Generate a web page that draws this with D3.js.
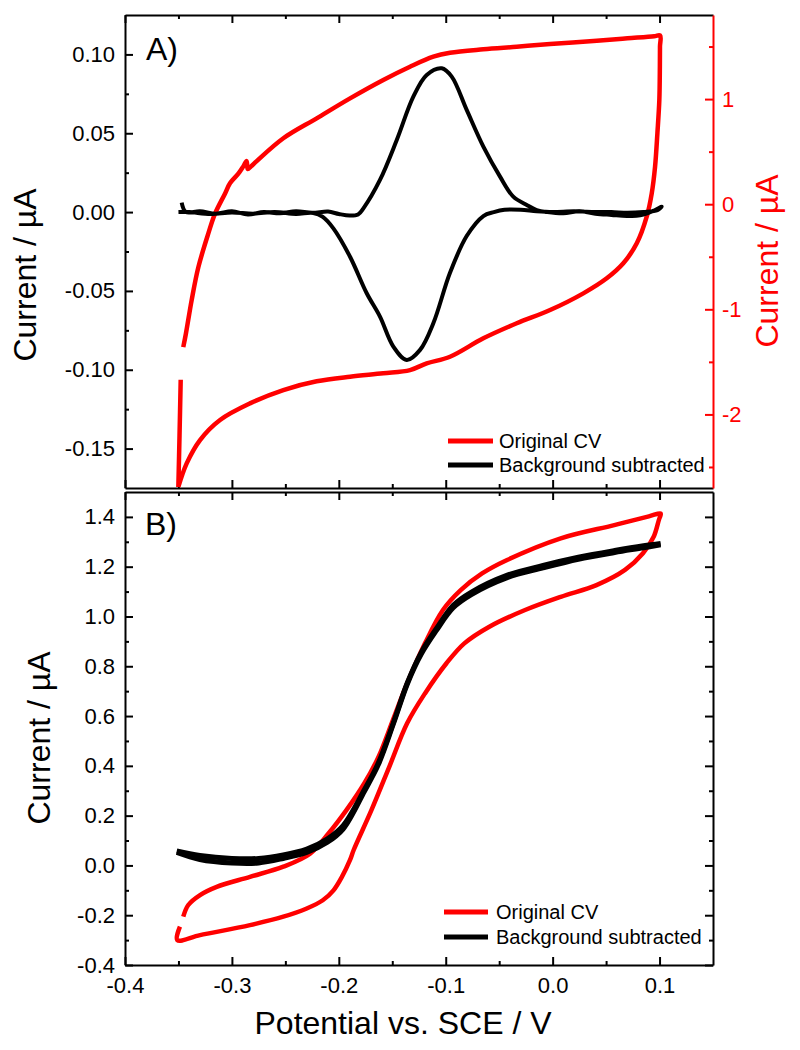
<!DOCTYPE html>
<html><head><meta charset="utf-8">
<script src="https://cdn.jsdelivr.net/npm/d3@7"></script>
<style>body{margin:0;background:#fff} svg{display:block} text{font-family:"Liberation Sans",Arial,sans-serif}</style>
</head><body><svg id="c" width="800" height="1050"></svg>
<script>
// ---------- axes / ticks ----------
const xDomain = [-0.4, 0.15];
const xMajor = [-0.4, -0.3, -0.2, -0.1, 0.0, 0.1];
const xMinor = [-0.35, -0.25, -0.15, -0.05, 0.05];
const xTickLabels = ["-0.4", "-0.3", "-0.2", "-0.1", "0.0", "0.1"];

const yADomain = [-0.175, 0.125];
const yAMajor = [-0.15, -0.10, -0.05, 0.0, 0.05, 0.10];
const yAMinor = [-0.125, -0.075, -0.025, 0.025, 0.075];
const yATickLabels = ["-0.15", "-0.10", "-0.05", "0.00", "0.05", "0.10"];

const yARDomain = [-2.7, 1.8];
const yARMajor = [-2, -1, 0, 1];
const yARMinor = [-2.5, -1.5, -0.5, 0.5, 1.5];
const yARTickLabels = ["-2", "-1", "0", "1"];

const yBDomain = [-0.4, 1.5];
const yBMajor = [-0.4, -0.2, 0.0, 0.2, 0.4, 0.6, 0.8, 1.0, 1.2, 1.4];
const yBMinor = [-0.3, -0.1, 0.1, 0.3, 0.5, 0.7, 0.9, 1.1, 1.3];
const yBTickLabels = ["-0.4", "-0.2", "0.0", "0.2", "0.4", "0.6", "0.8", "1.0", "1.2", "1.4"];

const seriesNames = ["Original CV", "Background subtracted"];
const seriesColors = ["#ff0000", "#000000"];

// ---------- data: panel A ----------
// Original CV (right axis), null = gap in recorded trace
const redA = [
  [-0.3501,-2.69],[-0.3490,-2.20],[-0.3479,-1.67], null,
  [-0.3455,-1.36],[-0.3430,-1.23],[-0.3376,-0.91],[-0.3314,-0.60],[-0.3221,-0.28],
  [-0.3158,-0.09],[-0.3065,0.10],[-0.3018,0.20],[-0.2940,0.29],[-0.2893,0.36],
  [-0.2862,0.41],[-0.2852,0.335],[-0.2821,0.36],[-0.2768,0.41],[-0.2519,0.627],
  [-0.2207,0.817],[-0.1895,1.007],[-0.1584,1.182],[-0.1334,1.308],[-0.1116,1.403],
  [-0.0960,1.441],[-0.0648,1.474],[-0.0336,1.498],[-0.0024,1.524],[0.0413,1.555],
  [0.0700,1.578],[0.0950,1.598],[0.1005,1.605],[0.1004,1.50],[0.1003,1.31],[0.0998,0.99],
  [0.0980,0.677],[0.0958,0.357],
  [0.0927,0.104],[0.0880,-0.119],[0.0787,-0.372],[0.0661,-0.562],[0.0506,-0.705],
  [0.0287,-0.848],[-0.0024,-1.007],[-0.0336,-1.133],[-0.0648,-1.276],[-0.0960,-1.451],
  [-0.1178,-1.514],[-0.1334,-1.578],[-0.1584,-1.609],[-0.1895,-1.641],[-0.2207,-1.685],
  [-0.2519,-1.768],[-0.2831,-1.895],[-0.3111,-2.053],[-0.3298,-2.244],[-0.3423,-2.466],
  [-0.3501,-2.69]
];
// Background subtracted (left axis)
const blackA = [
  [-0.347,0.006],[-0.343,0.000],[-0.330,0.0005],[-0.315,-0.001],[-0.300,0.0005],
  [-0.285,-0.0015],[-0.270,0.000],[-0.255,-0.0008],[-0.240,0.0005],[-0.225,-0.0005],
  [-0.210,0.0003],[-0.200,-0.0012],[-0.190,-0.0022],[-0.182,-0.0015],[-0.177,0.0024],
  [-0.1615,0.0204],[-0.1458,0.0457],[-0.1303,0.0732],[-0.1178,0.0870],[-0.1037,0.0912],
  [-0.0944,0.0859],[-0.0804,0.0648],[-0.0648,0.0415],[-0.0492,0.0225],[-0.0368,0.0098],
  [-0.0242,0.0045],[-0.0149,0.0013],[-0.005,0.000],[0.010,-0.0008],[0.025,0.0005],
  [0.040,-0.001],[0.055,-0.0018],[0.070,-0.0025],[0.085,-0.0015],[0.095,0.001],[0.102,0.0035],
  [0.098,0.0012],[0.085,0.000],[0.070,-0.0005],[0.055,0.000],[0.040,0.000],[0.020,0.0005],
  [0.000,0.000],[-0.015,0.0005],[-0.030,0.0015],[-0.045,0.0015],[-0.055,0.000],
  [-0.0648,-0.0025],[-0.0804,-0.0152],[-0.0960,-0.0385],[-0.1116,-0.0705],[-0.1240,-0.0874],
  [-0.1365,-0.0938],[-0.1490,-0.0853],[-0.1615,-0.0663],[-0.1739,-0.0515],[-0.1895,-0.0283],
  [-0.2051,-0.0103],[-0.2150,-0.003],[-0.2239,-0.0006],[-0.240,-0.0012],[-0.260,0.000],
  [-0.280,-0.001],[-0.300,-0.0002],[-0.320,-0.0012],[-0.340,0.000],[-0.350,0.000]
];

// ---------- data: panel B ----------
const redB = [
  [-0.3486,-0.246],[-0.3511,-0.300],[-0.3298,-0.280],[-0.2831,-0.240],[-0.2519,-0.206],
  [-0.2300,-0.173],[-0.2150,-0.140],[-0.2050,-0.100],[-0.1970,-0.045],[-0.1895,0.022],[-0.1861,0.062],
  [-0.1695,0.222],[-0.1528,0.396],[-0.1361,0.571],[-0.1194,0.691],[-0.0993,0.812],
  [-0.0826,0.892],[-0.0592,0.959],[-0.0258,1.026],[0.0076,1.079],[0.0410,1.126],
  [0.0677,1.187],[0.0845,1.254],[0.0945,1.320],[0.0994,1.388],[0.1008,1.405],[0.1010,1.414],
  [0.0900,1.402],[0.0577,1.367],[0.0076,1.314],[-0.0426,1.227],[-0.0660,1.173],[-0.0860,1.106],
  [-0.1026,1.026],[-0.1194,0.892],[-0.1361,0.731],[-0.1494,0.584],[-0.1628,0.437],
  [-0.1761,0.330],[-0.1929,0.222],[-0.2095,0.129],[-0.2269,0.047],[-0.2519,-0.005],
  [-0.2831,-0.046],[-0.3142,-0.086],[-0.3298,-0.119],[-0.3408,-0.159],[-0.3455,-0.206]
];
const blackBForward = [
  [-0.3516,0.058],[-0.330,0.040],[-0.300,0.028],[-0.275,0.028],[-0.252,0.042],[-0.230,0.066],
  [-0.211,0.106],[-0.196,0.160],[-0.176,0.305],[-0.163,0.412],[-0.149,0.573],[-0.136,0.733],
  [-0.123,0.855],[-0.109,0.950],[-0.093,1.045],[-0.076,1.098],[-0.043,1.165],[-0.009,1.205],
  [0.024,1.238],[0.058,1.265],[0.085,1.284],[0.101,1.293]
];
const blackBReverse = [
  [0.101,1.288],[0.085,1.276],[0.058,1.257],[0.024,1.230],[-0.009,1.195],[-0.043,1.155],
  [-0.076,1.088],[-0.093,1.035],[-0.109,0.942],[-0.123,0.848],[-0.136,0.728],[-0.149,0.568],
  [-0.163,0.405],[-0.176,0.298],[-0.196,0.146],[-0.211,0.092],[-0.230,0.052],[-0.252,0.028],
  [-0.275,0.010],[-0.300,0.010],[-0.330,0.024],[-0.3516,0.052]
];

// ---------- layout ----------
const svg = d3.select("#c");
const L = 125, R = 713;
const PA = {top: 15, bottom: 488}, PB = {top: 492, bottom: 965};
const FONT = '"Liberation Sans", Arial, sans-serif';

const x = d3.scaleLinear().domain(xDomain).range([L, R]);
const yA = d3.scaleLinear().domain(yADomain).range([PA.bottom, PA.top]);
const yAR = d3.scaleLinear().domain(yARDomain).range([PA.bottom, PA.top]);
const yB = d3.scaleLinear().domain(yBDomain).range([PB.bottom, PB.top]);

function drawAxis(makeGen, tx, ty, major, labels, minor, color, pad, showLabels) {
  const g = svg.append("g").attr("transform", `translate(${tx},${ty})`);
  g.call(makeGen().tickValues(major).tickSize(-8).tickSizeOuter(0).tickPadding(pad)
    .tickFormat((d, i) => showLabels ? labels[i] : ""));
  g.attr("font-family", FONT).attr("font-size", 22);
  g.select(".domain").attr("stroke", color).attr("stroke-width", 2);
  g.selectAll(".tick line").attr("stroke", color).attr("stroke-width", 2);
  g.selectAll(".tick text").attr("fill", color);
  const gm = svg.append("g").attr("transform", `translate(${tx},${ty})`);
  gm.call(makeGen().tickValues(minor).tickSize(-4).tickSizeOuter(0).tickFormat(""));
  gm.select(".domain").remove();
  gm.selectAll(".tick line").attr("stroke", color).attr("stroke-width", 2);
  return g;
}

// Panel A axes
drawAxis(() => d3.axisBottom(x), 0, PA.bottom, xMajor, xTickLabels, xMinor, "#000", 12, false);
drawAxis(() => d3.axisTop(x), 0, PA.top, xMajor, xTickLabels, xMinor, "#000", 12, false);
drawAxis(() => d3.axisLeft(yA), L, 0, yAMajor, yATickLabels, yAMinor, "#000", 10, true);
drawAxis(() => d3.axisRight(yAR), R, 0, yARMajor, yARTickLabels, yARMinor, "#ff0000", 9, true);
// Panel B axes
drawAxis(() => d3.axisBottom(x), 0, PB.bottom, xMajor, xTickLabels, xMinor, "#000", 12, true);
drawAxis(() => d3.axisTop(x), 0, PB.top, xMajor, xTickLabels, xMinor, "#000", 12, false);
drawAxis(() => d3.axisLeft(yB), L, 0, yBMajor, yBTickLabels, yBMinor, "#000", 10, true);
drawAxis(() => d3.axisRight(yB), R, 0, yBMajor, yBTickLabels, yBMinor, "#000", 9, false);

// ---------- curves ----------
function lineGen(ys) {
  return d3.line().defined(d => d !== null).x(d => x(d[0])).y(d => ys(d[1]))
    .curve(d3.curveCatmullRom.alpha(0.5));
}
function drawCurve(data, ys, color, w) {
  svg.append("path").datum(data).attr("d", lineGen(ys))
    .attr("fill", "none").attr("stroke", color).attr("stroke-width", w)
    .attr("stroke-linejoin", "round").attr("stroke-linecap", "butt");
}
drawCurve(redA, yAR, seriesColors[0], 4.5);
drawCurve(blackA, yA, seriesColors[1], 4);
drawCurve(redB, yB, seriesColors[0], 4.5);
drawCurve(blackBForward, yB, seriesColors[1], 5);
drawCurve(blackBReverse, yB, seriesColors[1], 5);

// ---------- legends ----------
function legend(x0, x1, tx, rows) {
  rows.forEach((r, i) => {
    svg.append("line").attr("x1", x0).attr("x2", x1).attr("y1", r.y).attr("y2", r.y)
      .attr("stroke", seriesColors[i]).attr("stroke-width", 5);
    svg.append("text").attr("x", tx).attr("y", r.y + 7).attr("font-size", 20)
      .attr("font-family", FONT).attr("fill", "#000").text(seriesNames[i]);
  });
}
legend(448, 493, 499, [{y: 441}, {y: 465}]);
legend(444, 488, 496, [{y: 912}, {y: 937}]);

// ---------- titles ----------
function vtitle(tx, ty, color, txt) {
  svg.append("text").attr("transform", `translate(${tx},${ty}) rotate(-90)`)
    .attr("text-anchor", "middle").attr("font-size", 32).attr("font-family", FONT)
    .attr("fill", color).text(txt);
}
vtitle(36, 275, "#000", "Current / µA");
vtitle(778, 261, "#ff0000", "Current / µA");
vtitle(50, 738, "#000", "Current / µA");
svg.append("text").attr("x", 403).attr("y", 1034).attr("text-anchor", "middle")
  .attr("font-size", 32).attr("font-family", FONT).text("Potential vs. SCE / V");
svg.append("text").attr("x", 146).attr("y", 60).attr("font-size", 32).attr("font-family", FONT).text("A)");
svg.append("text").attr("x", 145).attr("y", 535).attr("font-size", 32).attr("font-family", FONT).text("B)");
</script></body></html>
